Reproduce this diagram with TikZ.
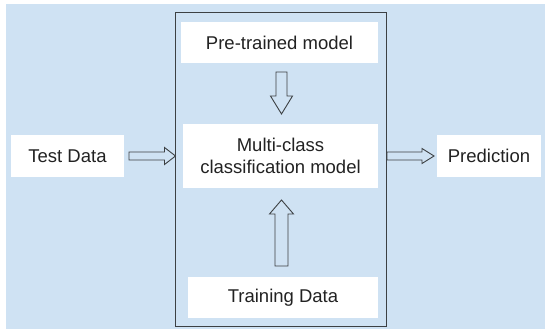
\documentclass[tikz,border=0pt]{standalone}
\usepackage{fontspec}
\setmainfont{Liberation Sans}
\usetikzlibrary{calc}
\definecolor{bgblue}{HTML}{CFE2F3}
\definecolor{edge}{HTML}{3C4043}
\definecolor{ink}{HTML}{222222}
\tikzset{
	box/.style={fill=white, text=ink, inner sep=0pt, outer sep=0pt, align=center,
		font=\fontsize{18.5}{22}\selectfont},
	ashaft/.store in=\ashaft, ahead/.store in=\ahead, alen/.store in=\alen,
	blockarrow/.style={draw=edge, fill=bgblue, line width=0.9pt, line join=miter, to path={
		($(\tikztostart)!\ashaft!90:(\tikztotarget)$)
		-- ($(\tikztotarget)!\alen!(\tikztostart)!\ashaft!-90:(\tikztostart)$)
		-- ($(\tikztotarget)!\alen!(\tikztostart)!\ahead!-90:(\tikztostart)$)
		-- (\tikztotarget)
		-- ($(\tikztotarget)!\alen!(\tikztostart)!\ahead!90:(\tikztostart)$)
		-- ($(\tikztotarget)!\alen!(\tikztostart)!\ashaft!90:(\tikztostart)$)
		-- ($(\tikztostart)!\ashaft!-90:(\tikztotarget)$) -- cycle}}
}
\begin{document}
\begin{tikzpicture}[x=1pt, y=-1pt]
	\useasboundingbox (0,0) rectangle (545,329);
	\fill[bgblue] (6,4) rectangle (545,329);
	\node[draw=edge, line width=0.9pt, fill=bgblue, minimum width=210.5pt, minimum height=314pt, outer sep=0pt] (frame) at (280.75,169) {};
	\node[box, minimum width=197pt, minimum height=41pt] (pretrained) at (279.5,42.5) {Pre-trained model};
	\node[box, minimum width=195pt, minimum height=64pt] (multi) at (280.5,156) {Multi-class\\classification model};
	\node[box, minimum width=190pt, minimum height=41pt] (training) at (283,297.5) {Training Data};
	\node[box, minimum width=113pt, minimum height=42pt] (test) at (67.5,156) {Test Data};
	\node[box, minimum width=104pt, minimum height=42pt] (pred) at (489,156) {Prediction};
	\draw[blockarrow, ashaft=4pt, ahead=8.5pt, alen=11pt] ([xshift=5pt]test.east) to (frame.west |- test);
	\draw[blockarrow, ashaft=4pt, ahead=7.5pt, alen=12pt] ([xshift=1pt]frame.east |- multi) to ([xshift=-3pt]pred.west);
	\draw[blockarrow, ashaft=5.5pt, ahead=11pt, alen=18pt] ([xshift=1pt, yshift=-9pt]multi |- pretrained.south) to ([xshift=1pt, yshift=10pt]multi.north);
	\draw[blockarrow, ashaft=6.5pt, ahead=12pt, alen=14pt] ([xshift=1pt, yshift=11pt]multi |- training.north) to ([xshift=1pt, yshift=-12pt]multi.south);
\end{tikzpicture}
\end{document}
